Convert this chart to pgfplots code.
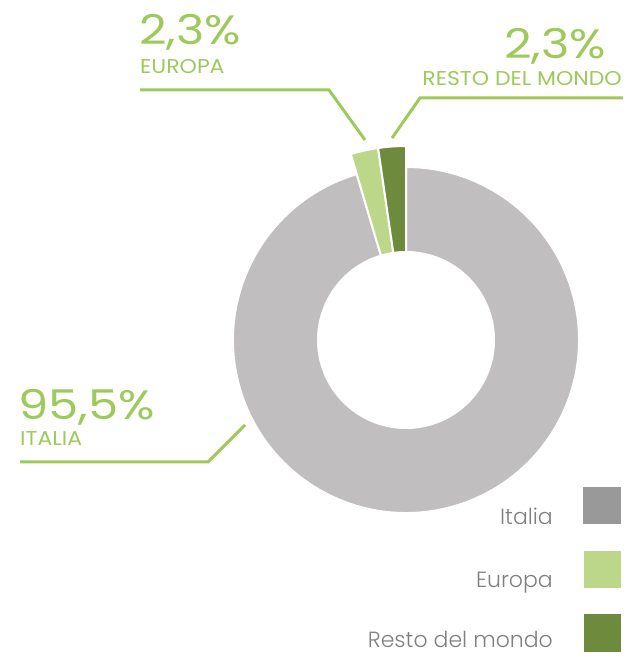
\documentclass[border=0pt]{standalone}
\usepackage{pgfplots}
\pgfplotsset{compat=1.18}
\usepackage{pgfplotstable}
\usepackage{fontspec}
\setmainfont{Poppins}
\newfontfamily\lightfont{Poppins Light}
\newfontfamily\bigfont{Poppins}[FakeStretch=1.17]
\newfontfamily\capfont{Poppins}[FakeStretch=1.1]
\definecolor{italia}{HTML}{C0BEBF}
\definecolor{italialeg}{HTML}{999999}
\definecolor{europa}{HTML}{BDD78A}
\definecolor{resto}{HTML}{6E8B3D}
\definecolor{lblgreen}{HTML}{9DCA5A}
\definecolor{leggray}{HTML}{7F7F7F}

\pgfplotstableread{
region value
Italia 95.5
Europa 2.3
Resto 2.3
}\shares
\pgfplotstablegetelem{0}{value}\of\shares \let\vIt\pgfplotsretval
\pgfplotstablegetelem{1}{value}\of\shares \let\vEu\pgfplotsretval
\pgfplotstablegetelem{2}{value}\of\shares \let\vRe\pgfplotsretval
\pgfmathsetmacro\tot{\vIt+\vEu+\vRe}
\pgfmathsetmacro\aA{90}
\pgfmathsetmacro\aB{90+(\vRe/\tot)*360}
\pgfmathsetmacro\aC{\aB+(\vEu/\tot)*360}
\pgfmathsetmacro\aD{\aC+(\vIt/\tot)*360}

\newcommand\sector[5]{%
  \fill[#1, draw=white, line width=2pt]
    ([shift={(#2:#4pt)}]axis cs:406,319) arc[start angle=#2, end angle=#3, radius=#4pt]
    -- ([shift={(#3:#5pt)}]axis cs:406,319) arc[start angle=#3, end angle=#2, radius=#5pt] -- cycle;}

\begin{document}
\begin{tikzpicture}
\begin{axis}[x=1pt, y=1pt, xmin=0, xmax=627, ymin=0, ymax=659,
  hide axis, clip=false, scale only axis]
\path (axis cs:0,0) rectangle (axis cs:627,659);
\sector{italia}{\aC}{\aD}{173}{88}
\sector{europa}{\aB}{\aC}{194}{88}
\sector{resto}{\aA}{\aB}{194}{88}
% leader lines
\draw[lblgreen, line width=3pt] (axis cs:140,569) -- (axis cs:329,569) -- (axis cs:365,519);
\draw[lblgreen, line width=3pt] (axis cs:623,561) -- (axis cs:420,561) -- (axis cs:392,521);
\draw[lblgreen, line width=3pt] (axis cs:20,197) -- (axis cs:208,197) -- (axis cs:245,234);
% labels
\node[anchor=base west, inner sep=0pt, text=lblgreen, font=\bigfont\fontsize{41}{41}\selectfont] at (axis cs:139,614) {2,3\%};
\node[anchor=base west, inner sep=0pt, text=lblgreen, font=\capfont\fontsize{20}{20}\selectfont] at (axis cs:140,585) {EUROPA};
\node[anchor=base east, inner sep=0pt, text=lblgreen, font=\bigfont\fontsize{41}{41}\selectfont] at (axis cs:606,600) {2,3\%};
\node[anchor=base east, inner sep=0pt, text=lblgreen, font=\capfont\fontsize{20}{20}\selectfont] at (axis cs:622,573) {RESTO DEL MONDO};
\node[anchor=base west, inner sep=0pt, text=lblgreen, font=\bigfont\fontsize{41}{41}\selectfont] at (axis cs:18,239) {95,5\%};
\node[anchor=base west, inner sep=0pt, text=lblgreen, font=\capfont\fontsize{20}{20}\selectfont] at (axis cs:20,213) {ITALIA};
% legend
\fill[italialeg] (axis cs:583,135) rectangle (axis cs:621,172);
\fill[europa] (axis cs:584,71) rectangle (axis cs:621,108);
\fill[resto] (axis cs:584,7) rectangle (axis cs:621,45);
\node[anchor=base east, inner sep=0pt, text=leggray, font=\lightfont\fontsize{22}{22}\selectfont] at (axis cs:553,134) {Italia};
\node[anchor=base east, inner sep=0pt, text=leggray, font=\lightfont\fontsize{22}{22}\selectfont] at (axis cs:553,71) {Europa};
\node[anchor=base east, inner sep=0pt, text=leggray, font=\lightfont\fontsize{22}{22}\selectfont] at (axis cs:553,12) {Resto del mondo};
\end{axis}
\end{tikzpicture}
\end{document}
